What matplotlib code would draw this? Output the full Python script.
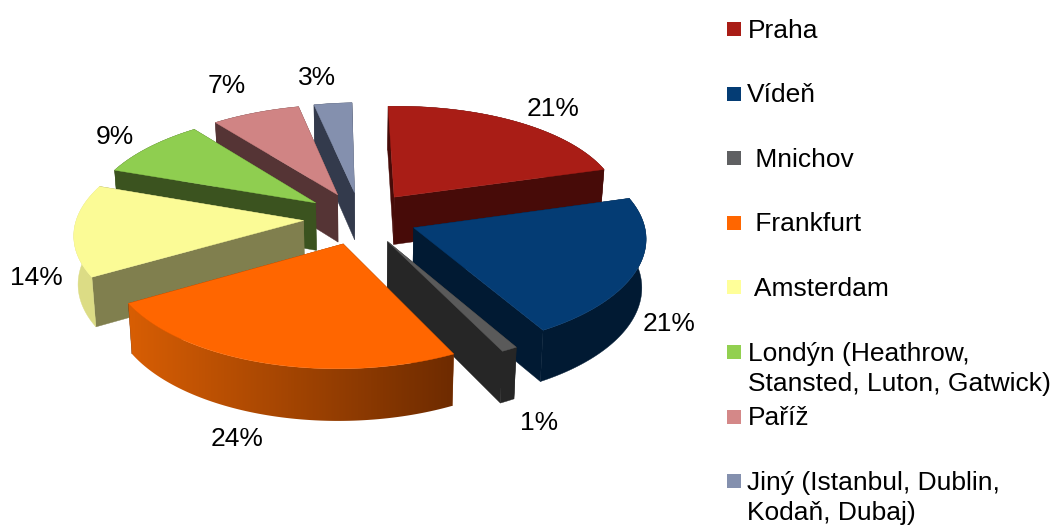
import numpy as np
import matplotlib
matplotlib.use("Agg")
import matplotlib.pyplot as plt
from matplotlib.colors import to_rgb
from matplotlib.patches import Polygon, Rectangle

plt.rcParams['font.family'] = ['Liberation Sans', 'DejaVu Sans']

# ---- data ----
categories = ["Praha", "Vídeň", "Mnichov", "Frankfurt", "Amsterdam", "Londýn", "Paříž", "Jiný"]
legend_lines = [["Praha"], ["Vídeň"], [" Mnichov"], [" Frankfurt"], [" Amsterdam"],
                ["Londýn (Heathrow,", "Stansted, Luton, Gatwick)"], ["Paříž"],
                ["Jiný (Istanbul, Dublin,", "Kodaň, Dubaj)"]]
values = [21, 21, 1, 24, 14, 9, 7, 3]
top_colors = ["#A91D16", "#043C74", "#5A5A5A", "#FF6600", "#FBFB96", "#8FCE50", "#D08484", "#8490AE"]
cut_colors = ["#470B08", "#011A33", "#262626", "#7A3000", "#807F4E", "#3B531F", "#553435", "#333A4C"]
rim_colors = ["#470B08", "#011A33", "#262626", None, "#DCDC85", "#3B531F", "#553435", "#333A4C"]
legend_colors = ["#A91D16", "#043C74", "#5F6062", "#FF6600", "#FFFF99", "#92D050", "#D48888", "#8490AE"]
label_pos = [(553, 109), (669, 324), (539, 423), (237, 439), (36, 278), (115, 137), (227, 86), (317, 78)]

# ---- pie geometry (screen pixels) ----
CX, CY = 360.5, 218
R, T, KX, KY = 228, 105, 0.10, 0.11
SHEAR_X, SHEAR_Y = -3.0, -3.5
EXPLODE = 0.25
DEPTH = 48.0
FS = 19


def project(u, v):
    x = CX + R * u / (1 + KX * v) + SHEAR_X * v
    y = CY - T * v / (1 + KY * v) + SHEAR_Y * u
    return x, y


def drop(x, y, v):
    return CX + (x - CX) * 0.985, y + DEPTH * (1 - 0.07 * v)


def wedge_points(a0, a1, n=80):
    mid = (a0 + a1) / 2
    ou, ov = EXPLODE * np.sin(mid), EXPLODE * np.cos(mid)
    ang = np.linspace(a0, a1, n)
    return ou, ov, ou + np.sin(ang), ov + np.cos(ang)


fig = plt.figure(figsize=(10.54, 5.27), dpi=100)
ax = fig.add_axes([0, 0, 1, 1])
ax.axis("off")

fracs = np.array(values) / sum(values)
edges = np.concatenate([[0], np.cumsum(fracs)]) * 2 * np.pi
order = sorted(range(len(values)), key=lambda i: -np.cos((edges[i] + edges[i + 1]) / 2))
grad_a, grad_b = np.array(to_rgb("#D85E04")), np.array(to_rgb("#6E2B00"))

for z, i in enumerate(order):
    a0, a1 = edges[i], edges[i + 1]
    ou, ov, us, vs = wedge_points(a0, a1)
    ax_, ay_ = project(ou, ov)
    xs, ys = project(us, vs)
    bx_, by_ = drop(ax_, ay_, ov)
    bxs, bys = drop(xs, ys, vs)
    base = z * 10
    # cut faces
    for k in (0, -1):
        ax.add_patch(Polygon([(ax_, ay_), (xs[k], ys[k]), (bxs[k], bys[k]), (bx_, by_)],
                             closed=True, fc=cut_colors[i], ec=cut_colors[i], lw=0.3, zorder=base + 1))
    # rim
    rim_xy = np.column_stack([np.r_[xs, bxs[::-1]], np.r_[ys, bys[::-1]]])
    if rim_colors[i] is None:
        rim = Polygon(rim_xy, closed=True, fc="none", ec="none", zorder=base + 2)
        ax.add_patch(rim)
        ramp = np.linspace(0, 1, 256)[None, :, None]
        grad = grad_a[None, None, :] + (grad_b - grad_a)[None, None, :] * ramp
        im = ax.imshow(grad, extent=(xs.min(), xs.max(), rim_xy[:, 1].max(), rim_xy[:, 1].min()),
                       aspect="auto", zorder=base + 2, interpolation="bilinear")
        im.set_clip_path(rim)
    else:
        ax.add_patch(Polygon(rim_xy, closed=True, fc=rim_colors[i], ec=rim_colors[i], lw=0.3, zorder=base + 2))
    # top
    ax.add_patch(Polygon(np.column_stack([np.r_[ax_, xs], np.r_[ay_, ys]]),
                         closed=True, fc=top_colors[i], ec=top_colors[i], lw=0.3, zorder=base + 3))

ax.set_xlim(0, 1054)
ax.set_ylim(527, 0)

# ---- data labels ----
for (lx, ly), val in zip(label_pos, values):
    ax.text(lx, ly, f"{val}%", fontsize=FS, ha="center", va="center", color="black", zorder=200)

# ---- legend ----
LEG_TOP, LEG_STEP = 29, 64.6
text_x = [748, 747, 748, 748, 748, 748, 748, 747]
for i, (lines, col) in enumerate(zip(legend_lines, legend_colors)):
    yc = LEG_TOP + LEG_STEP * i
    ax.add_patch(Rectangle((727, yc - 7), 14, 14, fc=col, ec="none", zorder=200))
    for j, line in enumerate(lines):
        ax.text(text_x[i], yc + 8.5 + j * 30.5, line, fontsize=FS, ha="left", va="baseline",
                color="black", zorder=200)

fig.savefig("out.png", dpi=100)
